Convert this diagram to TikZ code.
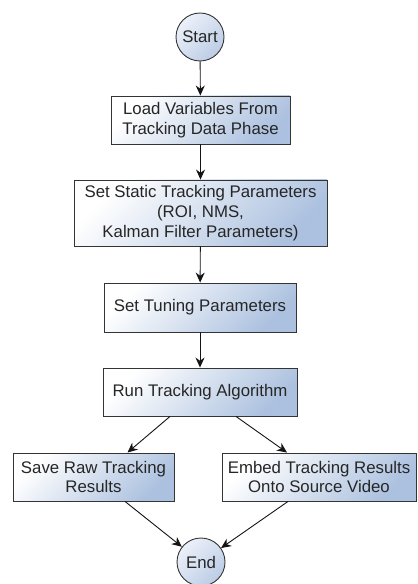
\documentclass[tikz,border=0pt]{standalone}
\usepackage{fontspec}
\setmainfont{Liberation Sans}
\usetikzlibrary{arrows.meta,calc}
\definecolor{boxblue}{RGB}{172,193,223}
\definecolor{termtop}{RGB}{236,241,249}
\definecolor{termbot}{RGB}{188,204,229}
\definecolor{edgegray}{RGB}{52,52,52}
\definecolor{ink}{RGB}{38,38,38}
\begin{document}
\begin{tikzpicture}[x=1bp,y=-1bp,
  txt/.style={text=ink, font=\fontsize{16.8bp}{19.8bp}\selectfont, align=center},
  proc/.style={txt, draw=edgegray, line width=0.9bp, inner sep=0pt,
    top color=white, bottom color=boxblue, shading angle=45},
  term/.style={txt, circle, draw=edgegray, line width=0.9bp, inner sep=0pt,
    minimum size=48bp, top color=termtop, bottom color=termbot, shading angle=45},
  flow/.style={draw=black!92, line width=0.9bp, -{Stealth[length=10bp,width=9bp]}}
]
\useasboundingbox (0,0) rectangle (417,584);

% terminals
\node[term] (start) at (200,37) {Start};
\node[term] (end) at (201,562) {End};

% process steps
\node[proc, minimum width=179bp, minimum height=48bp] (load) at (200.5,120)
  {Load Variables From\\Tracking Data Phase};
\node[proc, minimum width=253bp, minimum height=66bp] (static) at (200.5,213)
  {Set Static Tracking Parameters\\(ROI, NMS,\\Kalman Filter Parameters)};
\node[proc, minimum width=192bp, minimum height=49bp] (tune) at (200,307.5)
  {Set Tuning Parameters};
\node[proc, minimum width=194bp, minimum height=48bp] (run) at (200,392)
  {Run Tracking Algorithm};
\node[proc, minimum width=161bp, minimum height=48bp] (save) at (93.5,477)
  {Save Raw Tracking\\Results};
\node[proc, minimum width=194bp, minimum height=48bp] (embed) at (319,477)
  {Embed Tracking Results\\Onto Source Video};

% connectors
\draw[flow] (start) -- (load);
\draw[flow] (load) -- (static);
\draw[flow] (static) -- (tune);
\draw[flow] (tune) -- (run);
\draw[flow] ([xshift=-30bp]run.south) -- ([xshift=34bp]save.north);
\draw[flow] ([xshift=36bp]run.south) -- ([xshift=-32bp]embed.north);
\draw[flow] ([xshift=31.5bp]save.south) -- (end);
\draw[flow] ([xshift=-31bp]embed.south) -- (end);
\end{tikzpicture}
\end{document}
